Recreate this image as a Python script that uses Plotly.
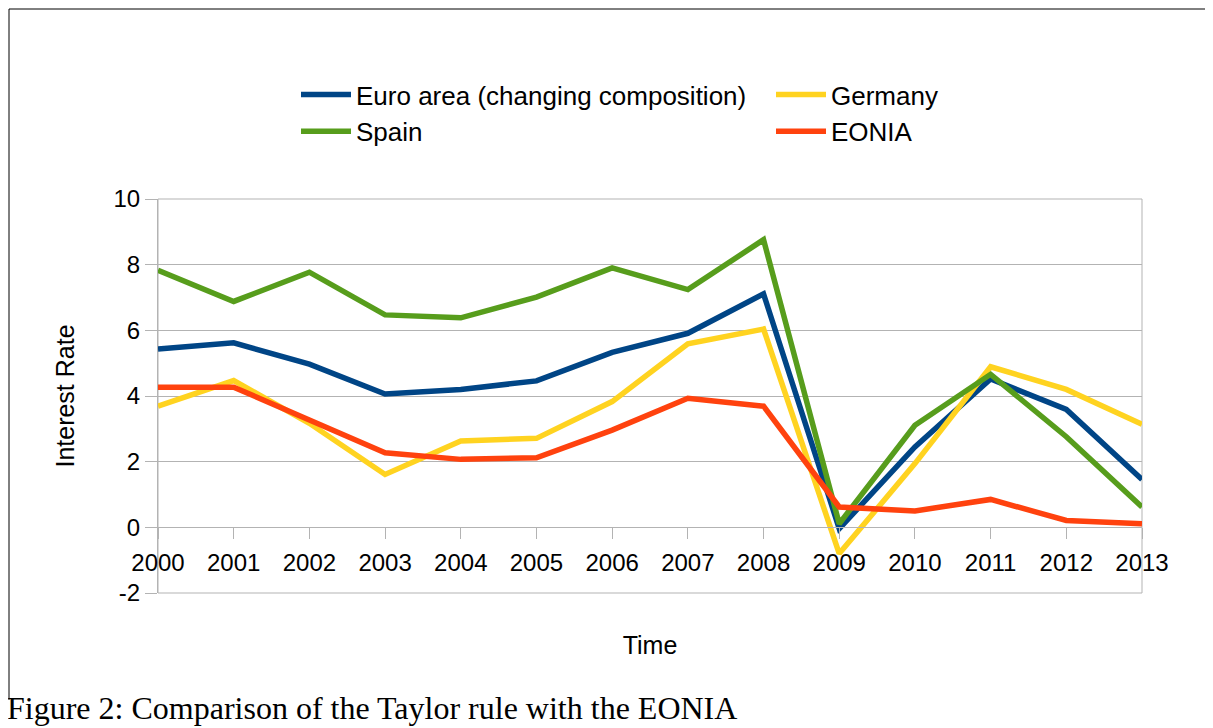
import plotly.graph_objects as go

years = list(range(2000, 2014))
series_names = ["Euro area (changing composition)", "Germany", "Spain", "EONIA"]
euro_area = [5.43, 5.62, 4.97, 4.06, 4.20, 4.46, 5.33, 5.91, 7.11, -0.04, 2.45, 4.52, 3.59, 1.46]
germany = [3.69, 4.47, 3.17, 1.61, 2.63, 2.71, 3.83, 5.59, 6.04, -0.80, 1.94, 4.89, 4.20, 3.14]
spain = [7.83, 6.88, 7.77, 6.47, 6.38, 7.01, 7.90, 7.24, 8.76, 0.11, 3.11, 4.66, 2.76, 0.62]
eonia = [4.27, 4.27, 3.27, 2.27, 2.07, 2.12, 2.96, 3.93, 3.69, 0.62, 0.50, 0.85, 0.21, 0.11]
colors = ["#004586", "#ffd320", "#579d1c", "#ff420e"]
y_ticks = [-2, 0, 2, 4, 6, 8, 10]
y_tick_labels = ["-2", "0", "2", "4", "6", "8", "10"]

# page body has an 8px margin, so screen = figure + 8; keep figure inside the 1213x728 window
OFF = 8
W, H = 1213 - OFF, 728 - OFF
L = 158 - OFF
T = 199 - OFF
R = W - (1142 - OFF)
B = H - (593 - OFF)
pw, ph = W - L - R, H - T - B

def px_x(sx):
    return (sx - OFF - L) / pw

def px_y(sy):
    return (H - B - (sy - OFF)) / ph

GRID = "#b3b3b3"
FONT = "Liberation Sans, Arial, sans-serif"

fig = go.Figure()
for name, vals, col in zip(series_names, [euro_area, germany, spain, eonia], colors):
    fig.add_trace(go.Scatter(x=years, y=vals, name=name, mode="lines",
                             line=dict(color=col, width=5.5)))

fig.update_layout(
    width=W, height=H,
    margin=dict(l=L, r=R, t=T, b=B, autoexpand=False),
    paper_bgcolor="white", plot_bgcolor="white",
    font=dict(family=FONT, color="black", size=24),
    showlegend=True,
    legend=dict(orientation="h", x=px_x(296), y=px_y(71), xanchor="left", yanchor="top",
                entrywidth=410, entrywidthmode="pixels", itemwidth=50,
                font=dict(size=26, family=FONT, color="black"),
                bgcolor="rgba(0,0,0,0)", traceorder="normal"),
    xaxis=dict(range=[2000, 2013], tickmode="array", tickvals=years, ticktext=[str(y) for y in years],
               showgrid=False, zeroline=False, showline=True, linecolor=GRID, linewidth=1,
               ticks="outside", ticklen=11, tickcolor=GRID, tickwidth=1,
               anchor="free", position=1/6, ticklabelstandoff=3,
               tickfont=dict(size=24, family=FONT, color="black"),
               title=dict(text="Time", font=dict(size=25, family=FONT, color="black"), standoff=61)),
    yaxis=dict(range=[-2, 10], tickmode="array", tickvals=y_ticks, ticktext=y_tick_labels,
               showgrid=True, gridcolor=GRID, gridwidth=1, zeroline=False,
               showline=True, linecolor=GRID, linewidth=1,
               ticks="outside", ticklen=12, tickcolor=GRID, tickwidth=1,
               tickfont=dict(size=24, family=FONT, color="black"),
               title=dict(text="Interest Rate", font=dict(size=25, family=FONT, color="black"), standoff=31)),
)

# plot area frame
fig.add_shape(type="rect", xref="x domain", yref="y domain", x0=0, x1=1, y0=0, y1=1,
              line=dict(color=GRID, width=1), layer="below")
# outer figure frame (top and left edges)
fig.add_shape(type="line", xref="paper", yref="paper", x0=px_x(9), x1=px_x(1213), y0=px_y(9), y1=px_y(9),
              line=dict(color="black", width=1))
fig.add_shape(type="line", xref="paper", yref="paper", x0=px_x(9), x1=px_x(9), y0=px_y(9), y1=px_y(700),
              line=dict(color="black", width=1))

fig.add_annotation(text="Figure 2: Comparison of the Taylor rule with the EONIA",
                   xref="paper", yref="paper", x=px_x(5), y=px_y(728), xanchor="left", yanchor="bottom",
                   showarrow=False, font=dict(family="Liberation Serif, Times New Roman, serif", size=32, color="black"))

fig.write_html("out.html", post_script="document.body.style.overflow='hidden';")
